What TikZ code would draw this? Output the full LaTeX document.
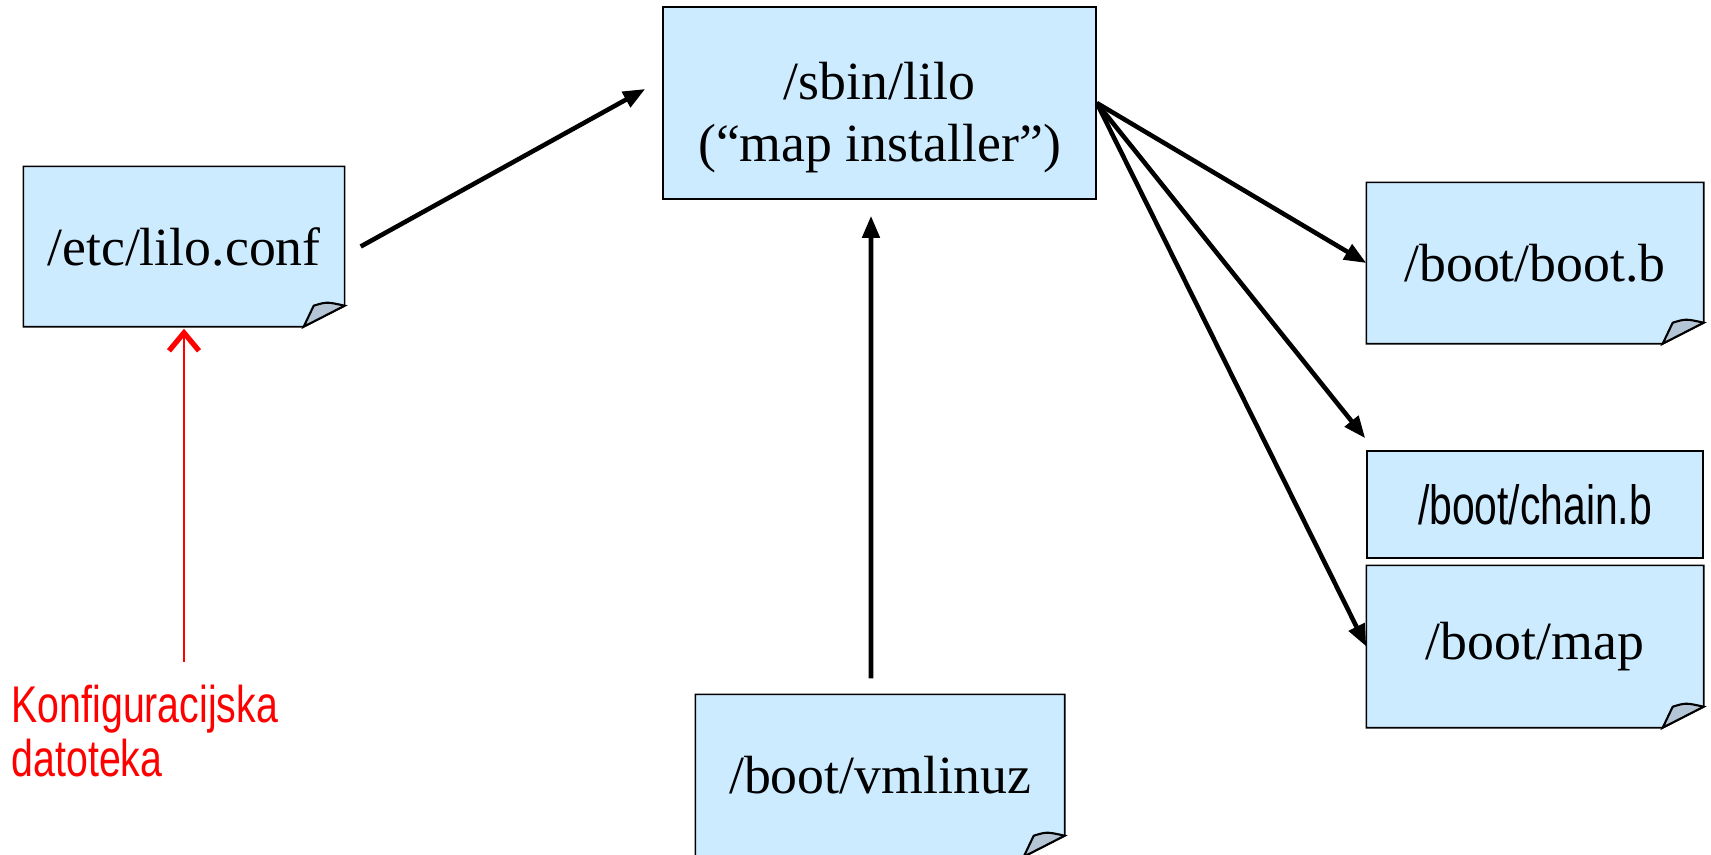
\documentclass[tikz,border=0pt]{standalone}
\usepackage{fontspec}
\setmainfont{Liberation Serif}
\newfontfamily\narrowsans[FakeStretch=0.74]{Liberation Sans}
\newfontfamily\redsans[FakeStretch=0.76]{Liberation Sans}
\usetikzlibrary{arrows.meta,calc}
\definecolor{notefill}{RGB}{204,235,255}
\definecolor{flapfill}{RGB}{180,198,214}
\definecolor{confred}{RGB}{255,0,0}

% folded corner for a note box
\newcommand{\dogear}[1]{%
  \fill[white] ([xshift=-0.41cm]#1.south east) -- (#1.south east) -- ([yshift=0.21cm]#1.south east) -- cycle;
  \draw[boxline] (#1.south west) -- ([xshift=-0.41cm]#1.south east) -- ([yshift=0.21cm]#1.south east) -- (#1.north east) -- (#1.north west) -- cycle;
  \filldraw[boxline, line width=0.6pt, fill=flapfill] ([xshift=-0.41cm]#1.south east) -- ([xshift=-0.31cm,yshift=0.21cm]#1.south east) .. controls ([xshift=-0.18cm,yshift=0.25cm]#1.south east) .. ([yshift=0.21cm]#1.south east) -- cycle;
}

\begin{document}
\begin{tikzpicture}[
  box/.style={rectangle, fill=notefill, inner sep=0pt, minimum width=3.36cm, minimum height=1.6cm, align=center, font=\fontsize{15.3}{17.6}\selectfont},
  boxline/.style={draw=black, line width=0.45pt},
  arrow/.style={-{Triangle[length=0.22cm, width=0.17cm]}, line width=1.3pt},
  redarrow/.style={-{Straight Barb[length=0.18cm, width=0.3cm, line width=1.5pt]}, confred, line width=0.6pt}
]
\useasboundingbox (0,0) rectangle (17.11,-8.54);

\node[box, minimum width=3.2cm, minimum height=1.59cm] (etc) at (1.84,-2.465) {/etc/lilo.conf};
\node[box, boxline, minimum width=4.33cm, minimum height=1.92cm] (sbin) at (8.795,-1.03) {\rule{0pt}{0.66cm}/sbin/lilo\\(“map installer”)};
\node[box] (bootb) at (15.35,-2.63) {/boot/boot.b};
\node[box, boxline, minimum height=1.07cm, font=\narrowsans\fontsize{15.7}{18}\selectfont] (chainb) at (15.35,-5.045) {/boot/chain.b};
\node[box, minimum height=1.61cm] (map) at (15.35,-6.465) {/boot/map};
\node[box, minimum width=3.68cm, minimum height=1.61cm] (vmlinuz) at (8.80,-7.755) {/boot/vmlinuz};

\dogear{etc}
\dogear{bootb}
\dogear{map}
\dogear{vmlinuz}

\node[anchor=north west, inner sep=0pt, align=left, text=confred, font=\redsans\fontsize{14.7}{15.6}\selectfont] (conf) at (0.11,-6.84) {Konfiguracijska\\datoteka};
\coordinate (confline) at (1.84,-6.62);

\draw[arrow] ($(etc.east)+(0.16,0)$) -- ($(sbin.west)+(-0.17,0.14)$);
\draw[arrow] ($(vmlinuz.north)+(-0.09,0.16)$) -- ($(sbin.south)+(-0.085,-0.16)$);
\draw[arrow] (sbin.east) -- (bootb.west);
\draw[arrow] (sbin.east) -- ($(chainb.north west)+(-0.01,0.12)$);
\draw[arrow] (sbin.east) -- (map.west);

\draw[redarrow] (confline) -- ([yshift=-0.02cm]etc.south);
\end{tikzpicture}
\end{document}
